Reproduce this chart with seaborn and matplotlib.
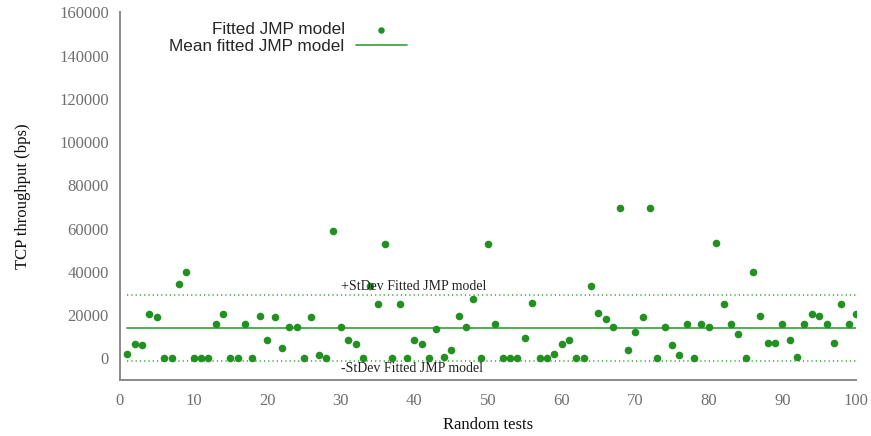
import numpy as np
import pandas as pd
import matplotlib
matplotlib.use("Agg")
import matplotlib.pyplot as plt
import seaborn as sns

# ---- data ----
tests = list(range(1, 101))
throughput = [
    2100, 6500, 6100, 20600, 19100, 0, 300, 34200, 40000, 0,
    0, 0, 15800, 20600, 0, 0, 15800, 0, 19400, 8500,
    18900, 4600, 14600, 14600, 0, 19200, 1700, 0, 58800, 14500,
    8500, 6500, 0, 33400, 25200, 53100, 0, 25200, 0, 8300,
    6500, 0, 13700, 600, 3800, 19400, 14500, 27400, 0, 53100,
    15800, 0, 0, 0, 9200, 25700, 0, 0, 1800, 6500,
    8300, 0, 0, 33400, 20800, 18000, 14600, 69300, 3800, 12000,
    19100, 69300, 0, 14600, 6100, 1700, 15800, 0, 15800, 14500,
    53400, 25200, 15800, 11100, 0, 40000, 19800, 7100, 7100, 15800,
    8600, 700, 15800, 20600, 19400, 15800, 7100, 25200, 15800, 20600,
]
mean_value = 14100
stdev_value = 15400
x_ticks = [0, 10, 20, 30, 40, 50, 60, 70, 80, 90, 100]
y_ticks = [0, 20000, 40000, 60000, 80000, 100000, 120000, 140000, 160000]

df = pd.DataFrame({"test": tests, "tput": throughput})

sns.set_theme(style="white")
plt.rcParams["font.family"] = ["Liberation Serif", "DejaVu Serif"]

GREEN = "#229122"
LINEGREEN = "#3a9e3a"
GRAY = "#8a8a8a"

fig = plt.figure(figsize=(8.71, 4.36), dpi=100)
ax = fig.add_axes([120 / 871, 1 - 380 / 436, (856 - 120) / 871, (380 - 12.3) / 436])

sns.scatterplot(data=df, x="test", y="tput", ax=ax, color=GREEN, s=30,
                linewidth=0, label="Fitted JMP model", zorder=3)

xmin_line, xmax_line = min(tests), max(tests)
mean_df = pd.DataFrame({"test": [xmin_line, xmax_line], "v": [mean_value, mean_value]})
sns.lineplot(data=mean_df, x="test", y="v", ax=ax, color=LINEGREEN, lw=1.2,
             label="Mean fitted JMP model", zorder=2)
ax.hlines([mean_value + stdev_value, mean_value - stdev_value], xmin_line, xmax_line,
          colors=LINEGREEN, linestyles=[(0, (0.8, 2.0))], lw=1.1, zorder=2)

ax.annotate("+StDev Fitted JMP model", xy=(30, mean_value + stdev_value),
            xytext=(0, 6.0), textcoords="offset points", ha="left", va="center",
            fontsize=10, color="#222222")
ax.annotate("-StDev Fitted JMP model", xy=(30, mean_value - stdev_value),
            xytext=(0, -5.0), textcoords="offset points", ha="left", va="center",
            fontsize=10, color="#222222")

ax.set_xlim(0, 100)
ax.set_ylim(-10000, 160000)
ax.set_xticks(x_ticks)
ax.set_yticks(y_ticks)
ax.set_xticklabels([str(v) for v in x_ticks])
ax.set_yticklabels([str(v) for v in y_ticks])

for s in ["top", "right"]:
    ax.spines[s].set_visible(False)
for s in ["left", "bottom"]:
    ax.spines[s].set_color(GRAY)
    ax.spines[s].set_linewidth(1.4)

ax.tick_params(axis="both", direction="in", length=6, width=1.1, color=GRAY,
               labelcolor="#707070", labelsize=12)
ax.tick_params(axis="x", pad=9)
ax.tick_params(axis="y", pad=8)

ax.set_xlabel("Random tests", fontsize=12, color="#111111", labelpad=6)
ax.set_ylabel("TCP throughput (bps)", fontsize=12, color="#111111", labelpad=20)

leg = ax.legend(loc="upper right", bbox_to_anchor=(407 / 871, 1 - 22.5 / 436),
                bbox_transform=fig.transFigure, frameon=False, markerfirst=False,
                borderpad=0, borderaxespad=0, handlelength=3.0, handletextpad=0.65,
                labelspacing=0.1, markerscale=0.85,
                prop={"family": ["Liberation Sans"], "size": 12.3})

fig.savefig("out.png", dpi=100)
